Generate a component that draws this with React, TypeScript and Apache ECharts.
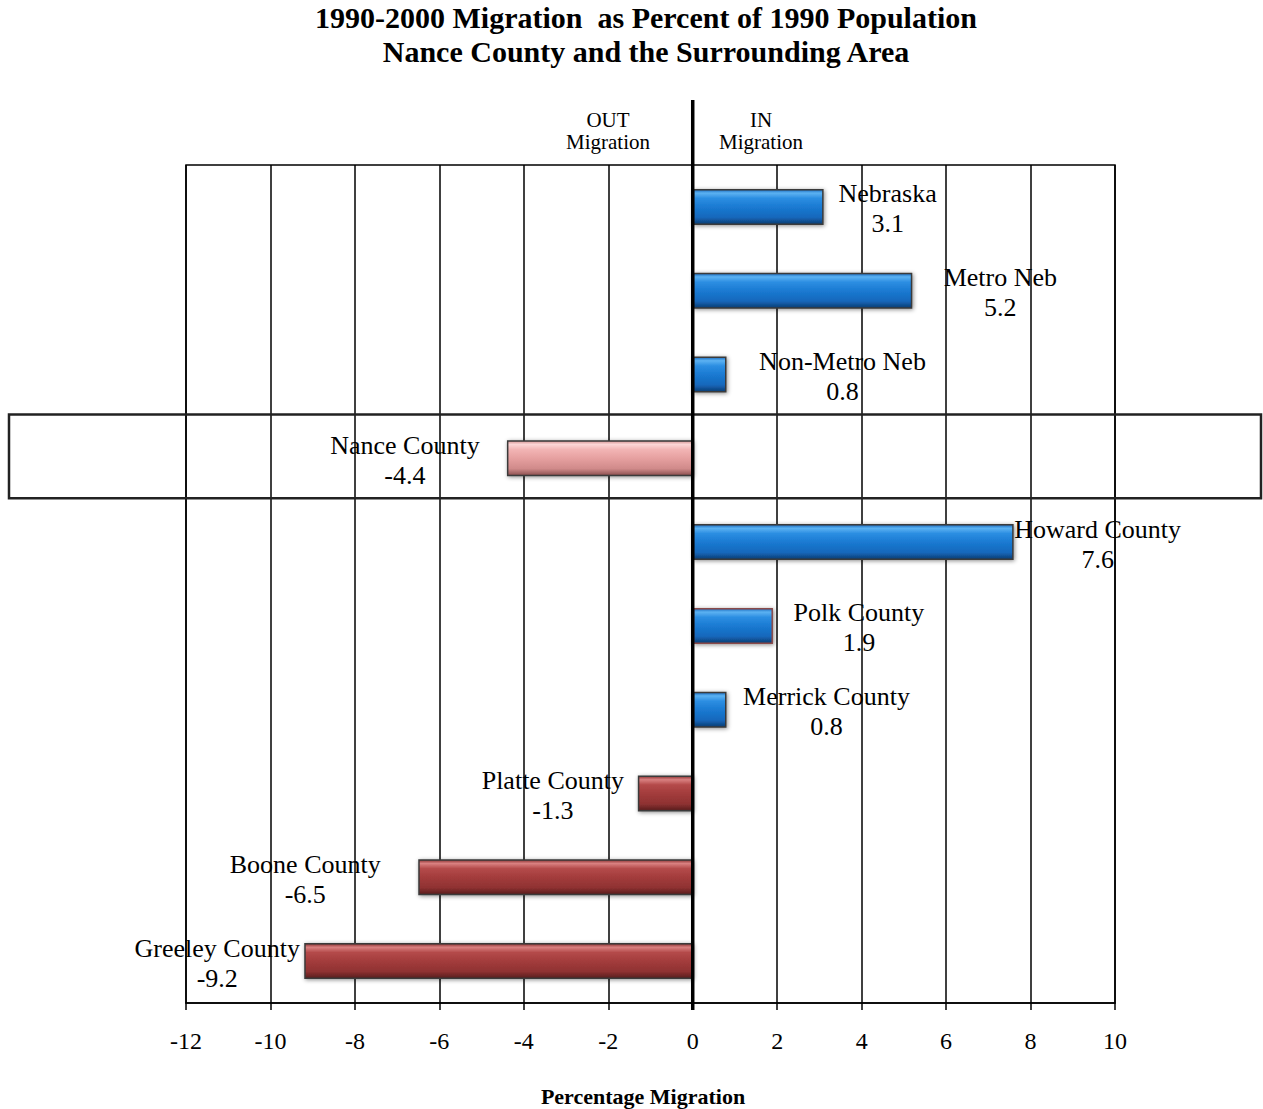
import React, { useEffect, useRef } from "react";
import * as echarts from "echarts";

const categories = [
  "Nebraska",
  "Metro Neb",
  "Non-Metro Neb",
  "Nance County",
  "Howard County",
  "Polk County",
  "Merrick County",
  "Platte County",
  "Boone County",
  "Greeley County",
];
const values = [3.1, 5.2, 0.8, -4.4, 7.6, 1.9, 0.8, -1.3, -6.5, -9.2];
const highlighted = "Nance County";
const xMin = -12;
const xMax = 10;
const xStep = 2;

const titleLines = [
  "1990-2000 Migration  as Percent of 1990 Population",
  "Nance County and the Surrounding Area",
];
const outLabel = "OUT\nMigration";
const inLabel = "IN\nMigration";
const xAxisTitle = "Percentage Migration";

// label centre offsets from bar end (styling)
const labelDx = [64, 88, 116, -102, 84, 86, 100, -85, -113, -87];

const SERIF = "'Liberation Serif', 'Times New Roman', serif";

function grad(stops: [number, string][]) {
  return new echarts.graphic.LinearGradient(
    0,
    0,
    0,
    1,
    stops.map(([offset, color]) => ({ offset, color }))
  );
}

const blue = () =>
  grad([
    [0, "#1a6cc0"],
    [0.1, "#5cb2f2"],
    [0.25, "#2c8ee2"],
    [0.5, "#1a7ad2"],
    [0.8, "#1668bc"],
    [1, "#0c3c72"],
  ]);
const red = () =>
  grad([
    [0, "#8f3535"],
    [0.1, "#d98080"],
    [0.25, "#b44a4a"],
    [0.5, "#a33c3c"],
    [0.8, "#8f3232"],
    [1, "#561c1c"],
  ]);
const pink = () =>
  grad([
    [0, "#d89898"],
    [0.1, "#fcd6d6"],
    [0.25, "#f2b4b4"],
    [0.5, "#e6a0a0"],
    [0.8, "#d08a8a"],
    [1, "#8a5050"],
  ]);

export default function App() {
  const ref = useRef<HTMLDivElement>(null);

  useEffect(() => {
    if (!ref.current) return;
    const chart = echarts.init(ref.current, undefined, { renderer: "svg" });

    const data = values.map((v, i) => {
      const name = categories[i];
      const isHi = name === highlighted;
      return {
        value: v,
        name,
        itemStyle: {
          color: isHi ? pink() : v >= 0 ? blue() : red(),
          borderColor: name === "Polk County" ? "#8a4a4a" : "#3a3a3a",
        },
        label: {
          show: true,
          position: v >= 0 ? "right" : "left",
          distance: 0,
          align: "center",
          verticalAlign: "middle",
          offset: [labelDx[i], 2],
          formatter: (p: any) => `${p.name}\n${p.value}`,
        },
      };
    });

    chart.setOption({
      animation: false,
      backgroundColor: "#ffffff",
      grid: {
        left: 186,
        right: 148,
        top: 165,
        bottom: 106,
        show: true,
        borderColor: "#000",
        borderWidth: 1.5,
      },
      xAxis: {
        type: "value",
        min: xMin,
        max: xMax,
        interval: xStep,
        axisLine: { show: true, onZero: false, lineStyle: { color: "#000", width: 1.5 } },
        axisTick: { show: true, length: 7, lineStyle: { color: "#000", width: 1.5 } },
        axisLabel: {
          color: "#000",
          fontFamily: SERIF,
          fontSize: 24,
          margin: 26,
        },
        splitLine: { show: true, lineStyle: { color: "#000", width: 1.5 } },
      },
      yAxis: {
        type: "category",
        data: categories,
        inverse: true,
        axisLine: { show: false },
        axisTick: { show: false },
        axisLabel: { show: false },
        splitLine: { show: false },
      },
      series: [
        {
          type: "bar",
          data,
          barWidth: 36,
          itemStyle: {
            borderWidth: 1.5,
            shadowColor: "rgba(0,0,0,0.45)",
            shadowBlur: 4,
            shadowOffsetX: 1,
            shadowOffsetY: 1,
          },
          label: {
            color: "#000",
            fontFamily: SERIF,
            fontSize: 26,
            lineHeight: 30,
          },
        },
      ],
    });

    const x0 = chart.convertToPixel({ xAxisIndex: 0 }, 0) as number;
    const yHi = chart.convertToPixel({ yAxisIndex: 0 }, highlighted) as number;
    const y0 = chart.convertToPixel({ yAxisIndex: 0 }, categories[0]) as number;
    const y1 = chart.convertToPixel({ yAxisIndex: 0 }, categories[1]) as number;
    const band = Math.abs(y1 - y0);
    const xCenter = 646;

    chart.setOption({
      graphic: [
        {
          type: "rect",
          z: 50,
          shape: { x: 9, y: yHi - band / 2 - 2, width: 1252, height: band },
          style: { fill: "none", stroke: "#222", lineWidth: 2.5 },
        },
        {
          type: "line",
          z: 100,
          shape: { x1: x0, y1: 100, x2: x0, y2: 1010 },
          style: { stroke: "#000", lineWidth: 3.5 },
        },
        {
          type: "text",
          z: 100,
          x: xCenter,
          y: 17,
          style: {
            text: titleLines[0],
            fill: "#000",
            font: `bold 30px ${SERIF}`,
            textAlign: "center",
            textVerticalAlign: "middle",
          },
        },
        {
          type: "text",
          z: 100,
          x: xCenter,
          y: 51,
          style: {
            text: titleLines[1],
            fill: "#000",
            font: `bold 30px ${SERIF}`,
            textAlign: "center",
            textVerticalAlign: "middle",
          },
        },
        {
          type: "text",
          z: 100,
          x: 608,
          y: 131,
          style: {
            text: outLabel,
            fill: "#000",
            font: `21px ${SERIF}`,
            lineHeight: 22,
            textAlign: "center",
            textVerticalAlign: "middle",
          },
        },
        {
          type: "text",
          z: 100,
          x: 761,
          y: 131,
          style: {
            text: inLabel,
            fill: "#000",
            font: `21px ${SERIF}`,
            lineHeight: 22,
            textAlign: "center",
            textVerticalAlign: "middle",
          },
        },
        {
          type: "text",
          z: 100,
          x: 643,
          y: 1096,
          style: {
            text: xAxisTitle,
            fill: "#000",
            font: `bold 22px ${SERIF}`,
            textAlign: "center",
            textVerticalAlign: "middle",
          },
        },
      ],
    });

    return () => chart.dispose();
  }, []);

  return (
    <div
      ref={ref}
      style={{ position: "absolute", left: 0, top: 0, width: 1263, height: 1109 }}
    />
  );
}
